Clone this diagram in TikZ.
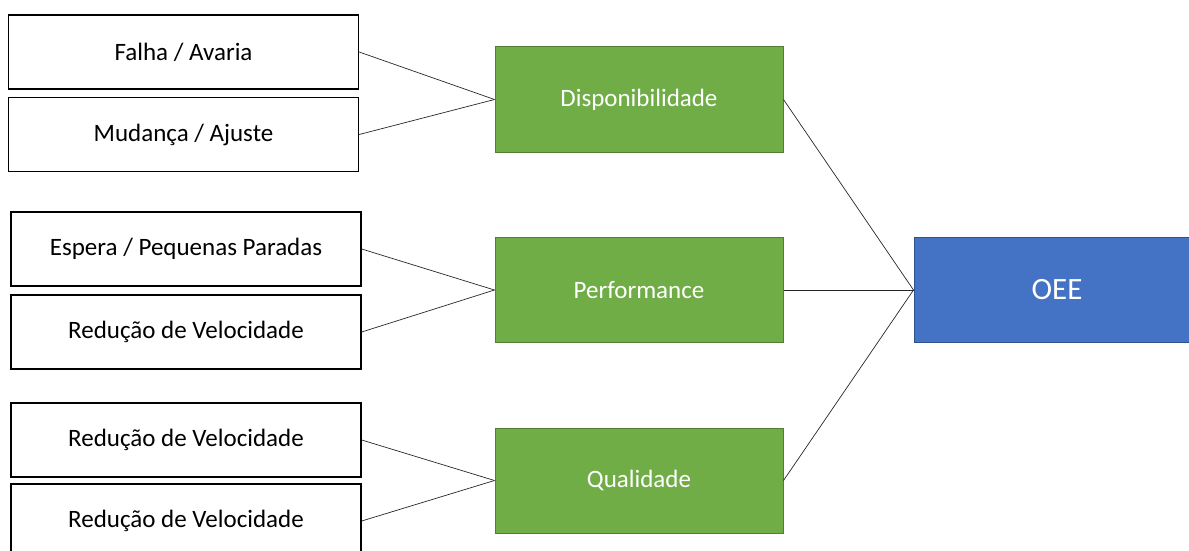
\documentclass[tikz,border=0pt]{standalone}
\usepackage{fontspec}
\setmainfont{Carlito}
\usepackage{tikz}
\definecolor{verde}{HTML}{70AD47}
\definecolor{verdeborda}{HTML}{507E32}
\definecolor{azul}{HTML}{4472C4}
\definecolor{azulborda}{HTML}{2F528F}
\begin{document}
\begin{tikzpicture}[x=1pt, y=-1pt,
    perda/.style={draw=black, line width=1.4pt, fill=white, inner sep=0pt, minimum width=350pt, minimum height=74pt, font=\fontsize{25}{28}\selectfont},
    fator/.style={draw=verdeborda, line width=1pt, fill=verde, text=white, inner sep=0pt, minimum width=288pt, minimum height=105pt, font=\fontsize{25}{28}\selectfont},
    total/.style={draw=azulborda, line width=1pt, fill=azul, text=white, inner sep=0pt, minimum width=286pt, minimum height=105pt, font=\fontsize{31}{36}\selectfont},
    liga/.style={draw=black!85, line width=0.7pt}]
    \useasboundingbox (0, 0) rectangle (1189, 551);
    \node[perda] (a) at (183.5, 52) {Falha / Avaria};
    \node[perda] (b) at (183.5, 134.5) {Mudança / Ajuste};
    \node[perda] (c) at (186, 249) {Espera / Pequenas Paradas};
    \node[perda] (d) at (186, 332) {Redução de Velocidade};
    \node[perda] (e) at (186, 440) {Redução de Velocidade};
    \node[perda] (f) at (186, 521) {Redução de Velocidade};
    \node[fator] (g) at (639, 99.5) {Disponibilidade};
    \node[fator] (h) at (639, 290) {Performance};
    \node[fator] (i) at (639, 480.5) {Qualidade};
    \node[total] (j) at (1057, 290) {OEE};
    \draw [liga] (a.east) to (g.west);
    \draw [liga] (b.east) to (g.west);
    \draw [liga] (c.east) to (h.west);
    \draw [liga] (d.east) to (h.west);
    \draw [liga] (e.east) to (i.west);
    \draw [liga] (f.east) to (i.west);
    \draw [liga] (g.east) to (j.west);
    \draw [liga] (h.east) to (j.west);
    \draw [liga] (i.east) to (j.west);
  \end{tikzpicture}
\end{document}
